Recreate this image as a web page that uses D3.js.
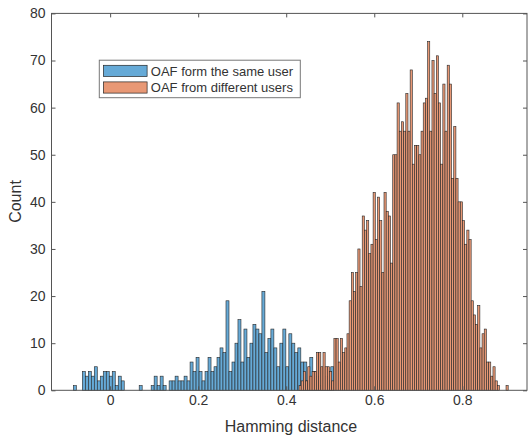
<!DOCTYPE html>
<html>
<head>
<meta charset="utf-8">
<script src="https://cdn.jsdelivr.net/npm/d3@7"></script>
<style>
body { margin: 0; background: #fff; }
text { font-family: "Liberation Sans", Arial, sans-serif; fill: #333; }
</style>
</head>
<body>
<script>
const width = 528;
const height = 438;

// histogram of "same user" distances (bin start / bin width / counts)
const sameStart = -0.0836;
const sameBinWidth = 0.0068;
const sameCounts = [1, 0, 0, 4, 3, 4, 3, 5, 2, 3, 4, 4, 3, 4, 1, 3, 2, 0, 0, 0,
  0, 0, 1, 0, 0, 0, 1, 3, 1, 3, 1, 0, 2, 2, 3, 2, 2, 3, 2, 6,
  4, 7, 4, 2, 4, 7, 4, 5, 7, 9, 8, 19, 4, 6, 10, 15, 6, 13, 7, 10,
  14, 13, 12, 21, 8, 11, 13, 9, 5, 10, 13, 5, 12, 10, 8, 9, 6, 6, 2, 7,
  4, 3, 1, 4, 3, 2, 5];

// histogram of "different users" distances
const diffStart = 0.4291;
const diffBinWidth = 0.00495;
const diffCounts = [1, 2, 4, 2, 5, 3, 4, 4, 8, 8, 5, 8, 5, 5, 4, 2,
  11, 11, 6, 11, 8, 9, 12, 19, 25, 21, 25, 30, 22, 37, 34, 36, 29, 31, 42, 32,
  41, 36, 25, 42, 38, 37, 27,
  50, 50, 61, 55, 57, 55, 63, 55, 68, 48, 52, 52, 50, 55, 61, 62, 74,
  55, 70, 63, 71, 61, 48, 65, 55, 69, 65, 45,
  56, 45, 40, 40, 36, 31, 34, 32, 19, 16, 14, 18, 9, 12, 13, 6, 6, 3, 5, 2, 1,
  0, 0, 0, 1];

const seriesNames = ["OAF form the same user", "OAF from different users"];
const seriesColors = ["#66aad7", "#e89875"];
const xTicks = [0, 0.2, 0.4, 0.6, 0.8];
const yTicks = [0, 10, 20, 30, 40, 50, 60, 70, 80];

const margin = {top: 13.4, right: 1, bottom: 47.7, left: 51.5};
const innerWidth = width - margin.left - margin.right;
const innerHeight = height - margin.top - margin.bottom;

const svg = d3.select("body").append("svg")
  .attr("width", width)
  .attr("height", height);

const g = svg.append("g")
  .attr("transform", `translate(${margin.left},${margin.top})`);

const x = d3.scaleLinear().domain([-0.1332, 0.947]).range([0, innerWidth]);
const y = d3.scaleLinear().domain([0, 80]).range([innerHeight, 0]);

const toBins = (start, w, counts) =>
  counts.map((c, i) => ({x0: start + i * w, x1: start + (i + 1) * w, count: c}));

const series = [
  toBins(sameStart, sameBinWidth, sameCounts),
  toBins(diffStart, diffBinWidth, diffCounts)
];

series.forEach((bins, si) => {
  g.append("g").selectAll("rect").data(bins)
    .enter().append("rect")
      .attr("x", d => x(d.x0))
      .attr("y", d => y(d.count))
      .attr("width", d => x(d.x1) - x(d.x0))
      .attr("height", d => y(0) - y(d.count))
      .attr("fill", seriesColors[si])
      .attr("stroke", d => d.count === 0 ? "#aaa" : "#262626")
      .attr("stroke-width", 0.6);
});

// axes, MATLAB style box with inward ticks
const axisColor = "#555";
const styleAxis = sel => {
  sel.select(".domain").remove();
  sel.selectAll("line").attr("stroke", axisColor);
  sel.selectAll("text").style("font-size", "14px").attr("fill", "#333");
};
const ticksOnly = sel => {
  sel.select(".domain").remove();
  sel.selectAll("text").remove();
  sel.selectAll("line").attr("stroke", axisColor);
};

g.append("g").attr("transform", `translate(0,${innerHeight})`)
  .call(d3.axisBottom(x).tickValues(xTicks).tickSize(-4).tickPadding(5).tickFormat(d3.format("")))
  .call(styleAxis);
g.append("g")
  .call(d3.axisTop(x).tickValues(xTicks).tickSize(-4))
  .call(ticksOnly);
g.append("g")
  .call(d3.axisLeft(y).tickValues(yTicks).tickSize(-4).tickPadding(6))
  .call(styleAxis);
g.append("g").attr("transform", `translate(${innerWidth},0)`)
  .call(d3.axisRight(y).tickValues(yTicks).tickSize(-4))
  .call(ticksOnly);

g.append("rect")
  .attr("width", innerWidth)
  .attr("height", innerHeight)
  .attr("fill", "none")
  .attr("stroke", axisColor)
  .attr("stroke-width", 1);

// axis labels
svg.append("text")
  .attr("transform", "translate(21,201.5) rotate(-90)")
  .attr("text-anchor", "middle")
  .style("font-size", "16px")
  .text("Count");

svg.append("text")
  .attr("x", 291)
  .attr("y", 432)
  .attr("text-anchor", "middle")
  .style("font-size", "16px")
  .text("Hamming distance");

// legend
const legend = svg.append("g");
legend.append("rect")
  .attr("x", 99.3).attr("y", 60.2)
  .attr("width", 201).attr("height", 37.5)
  .attr("fill", "#fff")
  .attr("stroke", "#777");

seriesNames.forEach((name, i) => {
  legend.append("rect")
    .attr("x", 103.4).attr("y", 65.3 + i * 16.6)
    .attr("width", 43.7).attr("height", 11.2)
    .attr("fill", seriesColors[i])
    .attr("stroke", "#262626")
    .attr("stroke-width", 0.7);
  legend.append("text")
    .attr("x", 150.8).attr("y", 75.6 + i * 16.6)
    .style("font-size", "13px")
    .attr("fill", "#222")
    .text(name);
});
</script>
</body>
</html>
